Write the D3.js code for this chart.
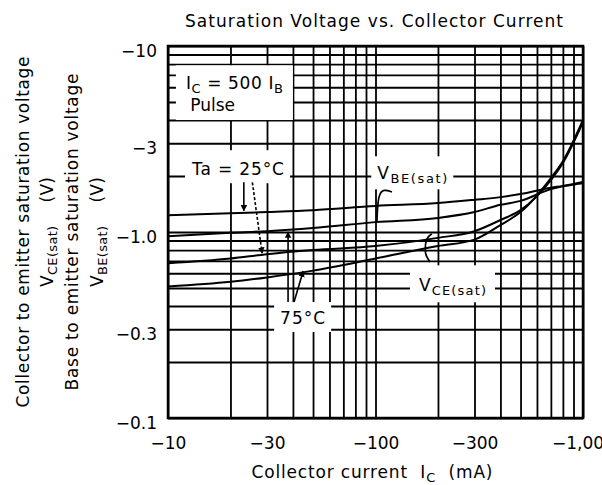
<!DOCTYPE html>
<html>
<head>
<meta charset="utf-8">
<script src="https://cdn.jsdelivr.net/npm/d3@7"></script>
<style>
body { margin: 0; background: #fff; }
svg { display: block; font-family: "DejaVu Sans", sans-serif; }
svg text { white-space: pre; }
</style>
</head>
<body>
<svg id="chart" width="602" height="485"></svg>
<script>
const currentMA = [10, 20, 30, 50, 100, 200, 300, 400, 500, 700, 800, 1000]
// voltage magnitudes (V)
const vbeSat25 = [1.23, 1.26, 1.28, 1.31, 1.38, 1.43, 1.49, 1.54, 1.60, 1.73, 1.77, 1.86]
const vbeSat75 = [0.95, 0.99, 1.01, 1.05, 1.13, 1.19, 1.28, 1.40, 1.47, 1.70, 1.76, 1.83]
const vceSat25 = [0.68, 0.72, 0.76, 0.80, 0.84, 0.93, 1.01, 1.16, 1.31, 1.90, 2.35, 3.90]
const vceSat75 = [0.51, 0.54, 0.57, 0.62, 0.72, 0.84, 0.91, 1.09, 1.28, 1.95, 2.40, 4.00]

const xTicks = [10, 30, 100, 300, 1000]
const xTickLabels = ["−10", "−30", "−100", "−300", "−1,000"]
const yTicks = [0.1, 0.3, 1, 3, 10]
const yTickLabels = ["−0.1", "−0.3", "−1.0", "−3", "−10"]
const xGrid = [10, 20, 30, 40, 50, 60, 70, 80, 90, 100, 200, 300, 400, 500, 600, 700, 800, 900, 1000]
const yGrid = [0.1, 0.2, 0.3, 0.4, 0.5, 0.6, 0.7, 0.8, 0.9, 1, 2, 3, 4, 5, 6, 7, 8, 9, 10]

const plotL = 168, plotR = 583, plotT = 46, plotB = 418

const svg = d3.select("#chart")

const x = d3.scaleLog().domain([10, 1000]).range([plotL, plotR])
const y = d3.scaleLog().domain([0.1, 10]).range([plotB, plotT])

// grid
svg.append("g")
    .attr("transform", `translate(0,${plotB})`)
    .call(d3.axisBottom(x).tickValues(xGrid).tickSize(-(plotB - plotT)).tickFormat(""))
    .call(g => g.select(".domain").remove())
    .selectAll("line").attr("stroke", "#000").attr("stroke-width", 1.8)
svg.append("g")
    .attr("transform", `translate(${plotL},0)`)
    .call(d3.axisLeft(y).tickValues(yGrid).tickSize(-(plotR - plotL)).tickFormat(""))
    .call(g => g.select(".domain").remove())
    .selectAll("line").attr("stroke", "#000").attr("stroke-width", 1.8)

// tick labels
svg.append("g")
    .attr("transform", `translate(0,${plotB})`)
    .call(d3.axisBottom(x).tickValues(xTicks).tickFormat((d, i) => xTickLabels[i]).tickSize(0).tickPadding(19))
    .call(g => g.select(".domain").remove())
    .attr("font-size", 17).attr("font-family", "DejaVu Sans, sans-serif")
    .selectAll("text").attr("fill", "#000")
svg.append("g")
    .attr("transform", `translate(${plotL},0)`)
    .call(d3.axisLeft(y).tickValues(yTicks).tickFormat((d, i) => yTickLabels[i]).tickSize(0).tickPadding(11))
    .call(g => g.select(".domain").remove())
    .attr("font-size", 17).attr("font-family", "DejaVu Sans, sans-serif")
    .selectAll("text").attr("fill", "#000").attr("dy", "0.6em")

svg.append("rect")
    .attr("x", plotL).attr("y", plotT)
    .attr("width", plotR - plotL).attr("height", plotB - plotT)
    .attr("fill", "none").attr("stroke", "#000").attr("stroke-width", 2.5)

// curves
const line = d3.line()
    .x(d => x(d[0]))
    .y(d => y(d[1]))
    .curve(d3.curveMonotoneX)

const series = [vbeSat25, vbeSat75, vceSat25, vceSat75]
svg.append("g").selectAll("path")
    .data(series)
    .join("path")
    .attr("d", s => line(currentMA.map((c, i) => [c, s[i]])))
    .attr("fill", "none")
    .attr("stroke", "#000")
    .attr("stroke-width", 2)

// writes text made of plain and subscript pieces
function addSegs(t, segs, size) {
    segs.forEach(s => {
        t.append("tspan")
            .attr("font-size", s.sub ? size - 4 : size)
            .attr("dy", s.sub ? 4 : (s.after ? -4 : 0))
            .text(s.t)
    })
}

// labels with white boxes hiding the grid
function label(parts, padX, padTop, padBottom) {
    const g = svg.append("g")
    const box = g.append("rect").attr("fill", "#fff")
    parts.forEach(p => {
        const t = g.append("text")
            .attr("x", x(p.ic)).attr("y", y(p.v))
            .attr("font-size", 17).attr("fill", "#000")
        if (p.len) t.attr("textLength", p.len)
        addSegs(t, p.segs, 17)
    })
    const bb = g.node().getBBox()
    box.attr("x", bb.x - padX).attr("y", bb.y - padTop)
        .attr("width", bb.width + padX * 2).attr("height", bb.height + padTop + padBottom)
}

label([
    {ic: 12.2, v: 5.85, len: 97, segs: [{t: "I"}, {t: "C", sub: true}, {t: " = 500 I", after: true}, {t: "B", sub: true}]},
    {ic: 12.8, v: 4.47, segs: [{t: "Pulse"}]}
], 10, 8, 5)
label([{ic: 13.05, v: 2.02, len: 92, segs: [{t: "Ta = 25°C"}]}], 6, 9, 4)
label([{ic: 34.7, v: 0.32, len: 45, segs: [{t: "75°C"}]}], 6, 6, 4)
label([{ic: 102, v: 1.92, len: 70, segs: [{t: "V"}, {t: "BE(sat)", sub: true}]}], 6, 7, 3)
label([{ic: 162, v: 0.48, len: 67, segs: [{t: "V"}, {t: "CE(sat)", sub: true}]}], 9, 10, 4)

// leaders and arrows
svg.append("defs").append("marker")
    .attr("id", "head")
    .attr("viewBox", "0 0 10 10")
    .attr("refX", 9).attr("refY", 5)
    .attr("markerWidth", 4).attr("markerHeight", 4)
    .attr("orient", "auto")
    .append("path").attr("d", "M0,0L10,5L0,10Z").attr("fill", "#000")

const straight = d3.line().x(d => x(d[0])).y(d => y(d[1]))
const smooth = d3.line().x(d => x(d[0])).y(d => y(d[1])).curve(d3.curveBasis)

const arrows = [
    {pts: [[23.2, 1.85], [23.2, 1.30]], dash: null},
    {pts: [[25.5, 1.85], [28.4, 0.77]], dash: "3,2"},
    {pts: [[37.9, 0.42], [37.9, 1.0]], dash: null},
    {pts: [[40.5, 0.42], [44.8, 0.615]], dash: null}
]
arrows.forEach(a => {
    svg.append("path")
        .attr("d", straight(a.pts))
        .attr("fill", "none").attr("stroke", "#000").attr("stroke-width", 1.6)
        .attr("stroke-dasharray", a.dash)
        .attr("marker-end", "url(#head)")
})

const brackets = [
    [[120, 1.64], [110, 1.70], [102.8, 1.60], [101.6, 1.13]],
    [[187, 0.977], [175, 0.928], [173, 0.80], [175, 0.744], [183, 0.69]]
]
brackets.forEach(b => {
    svg.append("path")
        .attr("d", smooth(b))
        .attr("fill", "none").attr("stroke", "#000").attr("stroke-width", 1.7)
})

// titles
svg.append("text")
    .attr("x", 374).attr("y", 27)
    .attr("text-anchor", "middle").attr("font-size", 17).attr("fill", "#000")
    .attr("textLength", 378)
    .text("Saturation Voltage vs. Collector Current")

const xt = svg.append("text")
    .attr("x", 372).attr("y", 478)
    .attr("text-anchor", "middle").attr("font-size", 17).attr("fill", "#000")
    .attr("textLength", 241)
addSegs(xt, [{t: "Collector current  I"}, {t: "C", sub: true}, {t: "  (mA)", after: true}], 17)

const yTitles = [
    {cx: 23, len: 351, segs: [{t: "Collector to emitter saturation voltage"}]},
    {cx: 47, len: 110, segs: [{t: "V"}, {t: "CE(sat)", sub: true}, {t: "    (V)", after: true}]},
    {cx: 72, len: 317, segs: [{t: "Base to emitter saturation voltage"}]},
    {cx: 97, len: 110, segs: [{t: "V"}, {t: "BE(sat)", sub: true}, {t: "    (V)", after: true}]}
]
yTitles.forEach(d => {
    const t = svg.append("text")
        .attr("transform", `translate(${d.cx + 6},232) rotate(-90)`)
        .attr("text-anchor", "middle").attr("font-size", 17).attr("fill", "#000")
        .attr("textLength", d.len)
    addSegs(t, d.segs, 17)
})
</script>
</body>
</html>
